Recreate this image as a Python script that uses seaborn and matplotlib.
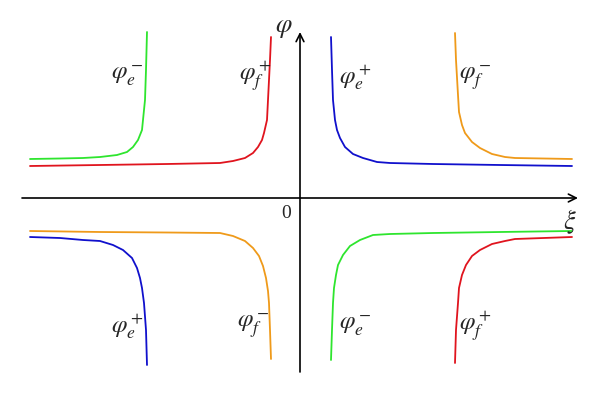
import numpy as np
import pandas as pd
import matplotlib
matplotlib.use("Agg")
import matplotlib.pyplot as plt
import seaborn as sns

# Curve points (x: xi, y: phi), origin at axes crossing
ul_green_x = [-270, -240, -217, -200, -183, -173, -167, -162, -158, -157, -155, -154, -153]
ul_green_y = [39, 39.5, 40, 41, 43, 46, 51, 58, 68, 78, 98, 128, 166]
ul_red_x = [-270, -200, -133, -80, -67, -55, -47, -42, -38, -36, -33, -32, -30, -29]
ul_red_y = [32, 33, 34, 35, 37, 40, 45, 51, 58, 65, 78, 98, 138, 161]
ur_blue_x = [31, 32, 33, 35, 37, 40, 45, 53, 63, 77, 90, 133, 200, 272]
ur_blue_y = [161, 128, 98, 78, 68, 60, 51, 44, 40, 36, 35, 34, 33, 32]
ur_orange_x = [155, 156, 158, 159, 162, 165, 172, 180, 192, 205, 215, 272]
ur_orange_y = [165, 138, 103, 86, 73, 65, 56, 50, 44, 41, 40, 39]
ll_orange_x = [-270, -200, -133, -80, -67, -55, -47, -41, -37, -34, -32, -31, -30, -29]
ll_orange_y = [-33, -34, -34.5, -35, -38, -43, -50, -58, -68, -80, -93, -105, -132, -161]
ll_blue_x = [-270, -240, -217, -200, -187, -177, -168, -163, -160, -158, -156, -154, -153]
ll_blue_y = [-39, -40, -42, -43, -47, -52, -60, -70, -80, -90, -105, -132, -167]
lr_green_x = [31, 32, 33, 34, 36, 38, 43, 50, 60, 73, 90, 133, 200, 272]
lr_green_y = [-162, -132, -105, -90, -77, -67, -57, -48, -42, -37, -36, -35, -34, -33]
lr_red_x = [155, 156, 158, 159, 162, 166, 172, 180, 192, 205, 215, 272]
lr_red_y = [-165, -132, -105, -90, -77, -67, -58, -52, -46, -43, -41, -39]

curve_names = ["ul_green", "ul_red", "ur_blue", "ur_orange",
               "ll_orange", "ll_blue", "lr_green", "lr_red"]
curve_x = [ul_green_x, ul_red_x, ur_blue_x, ur_orange_x,
           ll_orange_x, ll_blue_x, lr_green_x, lr_red_x]
curve_y = [ul_green_y, ul_red_y, ur_blue_y, ur_orange_y,
           ll_orange_y, ll_blue_y, lr_green_y, lr_red_y]

labels = [r"$\varphi_e^-$", r"$\varphi_f^+$", r"$\varphi_e^+$", r"$\varphi_f^-$",
          r"$\varphi_e^+$", r"$\varphi_f^-$", r"$\varphi_e^-$", r"$\varphi_f^+$"]
label_x = [-173, -45, 55, 175, -173, -47, 55, 175]
label_y = [122, 122, 121, 121, -128, -128, -128, -128]

GREEN, RED, BLUE, ORANGE = "#2ee52e", "#e0141e", "#1010cc", "#ef9a1a"
palette = dict(zip(curve_names, [GREEN, RED, BLUE, ORANGE, ORANGE, BLUE, GREEN, RED]))

rows = []
for n, xs, ys in zip(curve_names, curve_x, curve_y):
    for i, (a, b) in enumerate(zip(xs, ys)):
        rows.append({"curve": n, "xi": a, "phi": b, "order": i})
df = pd.DataFrame(rows)

sns.set_theme(style="white")
plt.rcParams["mathtext.fontset"] = "stix"
plt.rcParams["font.family"] = ["Liberation Serif", "DejaVu Serif"]

fig = plt.figure(figsize=(6.0, 3.95), dpi=100)
ax = fig.add_axes([0, 0, 1, 1])
sns.lineplot(data=df, x="xi", y="phi", hue="curve", palette=palette,
             sort=False, estimator=None, legend=False, ax=ax, linewidth=1.3)
for ln in ax.get_lines():
    ln.set_solid_joinstyle("round")
    ln.set_solid_capstyle("round")

ax.set_xlim(-300, 300)
ax.set_ylim(-197, 198)
ax.axis("off")

# axes with arrows
ax.annotate("", xy=(278, 0), xytext=(-278, 0),
            arrowprops=dict(arrowstyle="->", color="black", lw=1.2,
                            shrinkA=0, shrinkB=0, mutation_scale=14))
ax.annotate("", xy=(0, 166), xytext=(0, -174),
            arrowprops=dict(arrowstyle="->", color="black", lw=1.2,
                            shrinkA=0, shrinkB=0, mutation_scale=14))

for t, x, y in zip(labels, label_x, label_y):
    ax.text(x, y, t, fontsize=18, ha="center", va="center")

ax.text(-16, 169, r"$\varphi$", fontsize=19, ha="center", va="center")
ax.text(270, -24, r"$\xi$", fontsize=19, ha="center", va="center")
ax.text(-14, -15, "0", fontsize=14, ha="center", va="center")

fig.savefig("out.png", dpi=100)
